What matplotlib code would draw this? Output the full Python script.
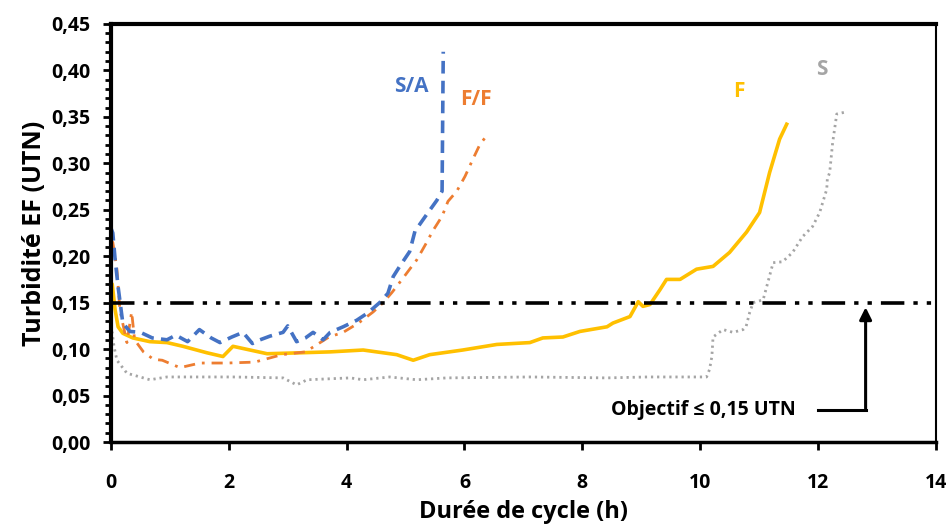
import matplotlib
matplotlib.use("Agg")
import matplotlib.pyplot as plt
from matplotlib.ticker import MultipleLocator, FuncFormatter

plt.rcParams['font.family'] = ['Open Sans', 'DejaVu Sans']
plt.rcParams['font.weight'] = 'bold'
plt.rcParams['axes.labelweight'] = 'bold'

# ---- data ----
sa_x = [0, 0.03, 0.07, 0.12, 0.2, 0.32, 0.5, 0.7, 0.95, 1.1, 1.3, 1.5, 1.7, 1.85, 2.05, 2.24, 2.4,
        2.53, 2.7, 2.92, 3.0, 3.15, 3.3, 3.43, 3.6, 3.72, 3.94, 4.17, 4.36, 4.56, 4.70, 4.79, 4.90,
        5.07, 5.16, 5.36, 5.53, 5.62, 5.63, 5.64]
sa_y = [0.23, 0.225, 0.196, 0.167, 0.128, 0.119, 0.118, 0.112, 0.11, 0.115, 0.108, 0.121, 0.112,
        0.107, 0.113, 0.118, 0.106, 0.11, 0.114, 0.118, 0.125, 0.108, 0.112, 0.118, 0.11, 0.118,
        0.124, 0.131, 0.139, 0.15, 0.16, 0.178, 0.189, 0.205, 0.227, 0.245, 0.26, 0.27, 0.347, 0.42]

ff_x = [0, 0.03, 0.1, 0.15, 0.27, 0.35, 0.4, 0.55, 0.72, 0.87, 1.17, 1.51, 1.97, 2.44, 2.9, 3.3,
        3.7, 3.94, 4.2, 4.45, 4.62, 4.77, 4.94, 5.07, 5.19, 5.36, 5.46, 5.62, 5.72, 5.87, 6.01,
        6.14, 6.26, 6.38]
ff_y = [0.215, 0.215, 0.186, 0.142, 0.107, 0.14, 0.11, 0.097, 0.089, 0.088, 0.08, 0.085, 0.085,
        0.086, 0.094, 0.097, 0.113, 0.118, 0.128, 0.14, 0.15, 0.161, 0.175, 0.186, 0.196, 0.215,
        0.227, 0.243, 0.259, 0.27, 0.286, 0.304, 0.32, 0.33]

f_x = [0, 0.02, 0.07, 0.12, 0.2, 0.37, 0.66, 0.95, 1.22, 1.63, 1.9, 2.07, 2.36, 2.65, 3.2, 3.72,
       4.28, 4.85, 5.13, 5.41, 5.97, 6.55, 7.11, 7.33, 7.67, 7.96, 8.42, 8.52, 8.81, 8.95, 9.03,
       9.15, 9.32, 9.43, 9.66, 9.94, 10.22, 10.5, 10.79, 11.01, 11.18, 11.35, 11.47]
f_y = [0.17, 0.17, 0.142, 0.124, 0.117, 0.112, 0.108, 0.107, 0.103, 0.096, 0.092, 0.103, 0.099,
       0.095, 0.096, 0.097, 0.099, 0.094, 0.088, 0.094, 0.099, 0.105, 0.107, 0.112, 0.113, 0.119,
       0.124, 0.128, 0.135, 0.151, 0.146, 0.148, 0.164, 0.175, 0.175, 0.186, 0.189, 0.204, 0.226,
       0.247, 0.29, 0.326, 0.342]

s_x = [0, 0.02, 0.05, 0.1, 0.27, 0.66, 0.95, 2.07, 2.92, 3.15, 3.33, 4.06, 4.28, 4.73, 5.19, 5.7,
       7.11, 8.42, 9.1, 10.11, 10.16, 10.2, 10.22, 10.39, 10.56, 10.73, 10.78, 10.84, 10.9, 11.07,
       11.13, 11.24, 11.4, 11.57, 11.74, 11.91, 12.03, 12.15, 12.16, 12.2, 12.25, 12.32, 12.46]
s_y = [0.118, 0.118, 0.103, 0.088, 0.074, 0.067, 0.07, 0.07, 0.069, 0.0615, 0.067, 0.069, 0.067,
       0.07, 0.067, 0.069, 0.07, 0.069, 0.07, 0.07, 0.078, 0.092, 0.113, 0.121, 0.118, 0.121,
       0.124, 0.139, 0.15, 0.153, 0.167, 0.193, 0.194, 0.204, 0.221, 0.232, 0.247, 0.272, 0.283,
       0.29, 0.322, 0.353, 0.355]

objective = 0.15
series_labels = ["S/A", "F/F", "F", "S"]
colors = ["#4472C4", "#ED7D31", "#FFC000", "#A5A5A5"]

fig = plt.figure(figsize=(9.49, 5.31), dpi=100)
ax = fig.add_axes([0.117, 0.1676, 0.869, 0.7874])

ax.plot(s_x, s_y, color=colors[3], lw=2, ls=(0, (0.8, 1.4)))
ax.plot(f_x, f_y, color=colors[2], lw=2.6, solid_joinstyle='round')
ax.plot(ff_x, ff_y, color=colors[1], lw=2.0, ls=(0, (4, 2.5, 1, 2.5)))
ax.plot(sa_x, sa_y, color=colors[0], lw=2.6, ls=(0, (3.5, 2)))

ax.axhline(objective, color="black", lw=2.6, ls=(0, (6.5, 2.5, 1.2, 2.5, 1.2, 2.5)))

# series names
ax.text(5.09, 0.383, series_labels[0], color=colors[0], fontsize=15, ha="center", va="center")
ax.text(6.19, 0.369, series_labels[1], color=colors[1], fontsize=15, ha="center", va="center")
ax.text(10.66, 0.377, series_labels[2], color=colors[2], fontsize=15, ha="center", va="center")
ax.text(12.07, 0.401, series_labels[3], color=colors[3], fontsize=15, ha="center", va="center")

# objective annotation
ax.text(10.05, 0.0345, "Objectif ≤ 0,15 UTN", fontsize=14, ha="center", va="center")
ax.plot([12.0, 12.81], [0.0345, 0.0345], color="black", lw=2.2)
ax.annotate("", xy=(12.81, 0.148), xytext=(12.81, 0.033),
            arrowprops=dict(arrowstyle="-|>", color="black", lw=2.2, mutation_scale=18))

ax.set_xlim(0, 14)
ax.set_ylim(0, 0.45)
ax.xaxis.set_major_locator(MultipleLocator(2))
ax.yaxis.set_major_locator(MultipleLocator(0.05))
ax.yaxis.set_minor_locator(MultipleLocator(0.01))
ax.yaxis.set_major_formatter(FuncFormatter(lambda v, p: f"{v:.2f}".replace(".", ",")))

ax.tick_params(axis="both", labelsize=14, direction="out", width=2, color="black")
ax.tick_params(axis="y", which="major", length=6, pad=9)
ax.tick_params(axis="y", which="minor", length=4, width=2)
ax.tick_params(axis="x", which="major", length=6, pad=16)

for side, w in (("left", 3), ("bottom", 2.5), ("top", 3), ("right", 1.5)):
    ax.spines[side].set_linewidth(w)
    ax.spines[side].set_color("black")

ax.set_xlabel("Durée de cycle (h)", fontsize=17, labelpad=5)
ax.set_ylabel("Turbidité EF (UTN)", fontsize=18, labelpad=3)

fig.savefig("out.png", dpi=100)
